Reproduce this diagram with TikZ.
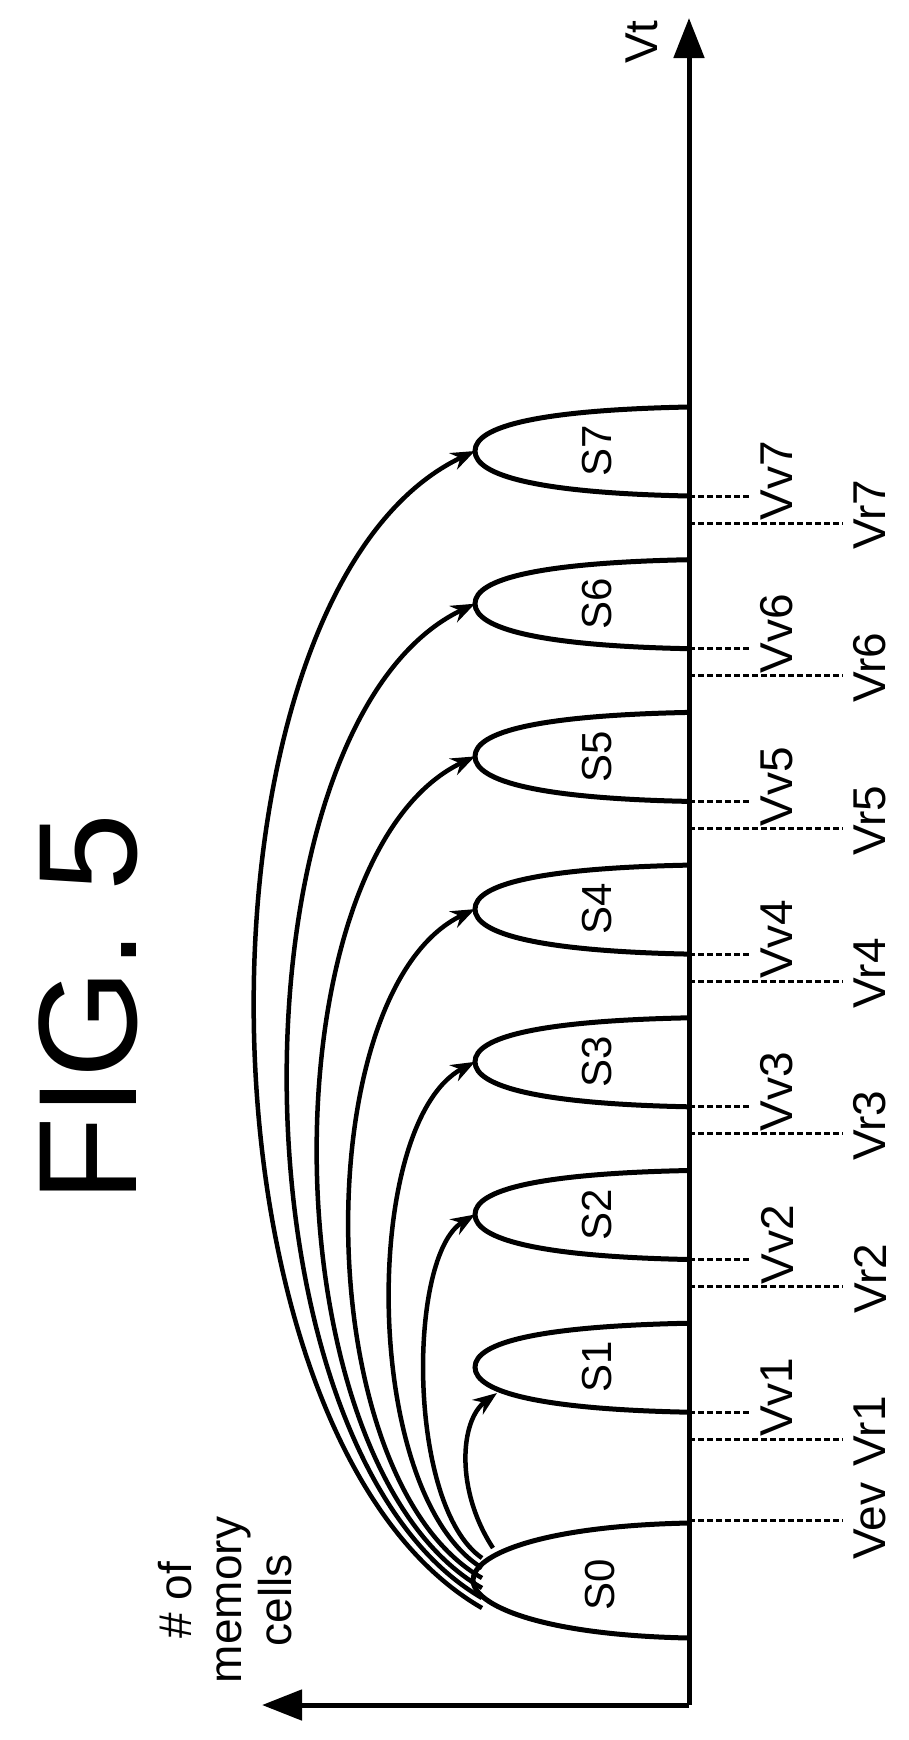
\documentclass[tikz,border=0pt]{standalone}
\usepackage{fontspec}
\setmainfont{Liberation Sans}
\usetikzlibrary{arrows.meta}
\begin{document}
\begin{tikzpicture}[x=1pt,y=-1pt,
  axis/.style={line width=5pt,-{Triangle[length=40pt,width=30pt]}},
  lobe/.style={line width=5pt},
  guide/.style={line width=3pt,dash pattern=on 6pt off 3pt},
  prog/.style={line width=4.5pt,-{Stealth[length=24pt,width=18pt]}},
  lbl/.style={rotate=90,font=\fontsize{46}{50}\selectfont,inner sep=0pt},
  slbl/.style={rotate=90,font=\fontsize{42}{46}\selectfont,inner sep=0pt}]
\useasboundingbox (0,0) rectangle (909,1740);
\coordinate (O) at (689,1705);
\coordinate (Ytip) at (689,18);
\coordinate (Xtip) at (262,1705);
\draw[axis] (O) -- (Ytip);
\draw[axis] (O) -- (Xtip);
\node[lbl] (vt) at (642,42) {Vt};
\node[lbl,align=center] (ylab) at (225,1600) {\# of\\memory\\cells};
\node[rotate=90,font=\fontsize{140}{150}\selectfont,inner sep=0pt] (fig) at (88,1008) {FIG. 5};
% S0
\draw[lobe] (689,1523) .. controls (540,1526) and (473,1555) .. (473,1580)
  coordinate (t0) .. controls (473,1605) and (540,1635) .. (689,1638);
\node[slbl] (s0) at (600,1585) {S0};
\draw[guide] (689,1520) -- (843,1520) coordinate (vev);
\node[lbl] (vevl) at (870,1521) {Vev};
% S1..S7
\foreach \k/\L in {1/465,2/425,3/390,4/350,5/318,6/288,7/255}{
  \pgfmathsetmacro{\U}{407+152.7*(7-\k)}
  \pgfmathsetmacro{\T}{\U+44}
  \pgfmathsetmacro{\Lo}{\U+89}
  \pgfmathsetmacro{\R}{\Lo+27}
  \draw[lobe] (689,\U) .. controls (540,\U+3) and (475,\T-25) .. (475,\T)
    coordinate (t\k) .. controls (475,\T+25) and (540,\Lo-3) .. (689,\Lo);
  \node[slbl] (s\k) at (597,\T) {S\k};
  \draw[guide] (689,\Lo) -- (750,\Lo) coordinate (vv\k);
  \draw[guide] (689,\R) -- (843,\R) coordinate (vr\k);
  \node[lbl] (vvl\k) at (777,\Lo-15) {Vv\k};
  \node[lbl] (vrl\k) at (870,\R-8) {Vr\k};
}
% program arrows
\coordinate (a1) at (493,1548);
\coordinate (e1) at (497,1393);
\draw[prog] (a1) .. controls (455,1490) and (460,1420) .. (e1);
\foreach \k/\c in {2/407,3/361,4/307,5/265,6/225,7/181}{
  \pgfmathsetmacro{\sy}{1548+10*(\k-1)}
  \pgfmathsetmacro{\ty}{407+152.7*(7-\k)+44}
  \pgfmathsetmacro{\ca}{\sy-0.15*(\sy-\ty)}
  \pgfmathsetmacro{\cb}{\ty+0.12*(\sy-\ty)}
  \coordinate (a\k) at (482,\sy);
  \draw[prog] (a\k) .. controls (\c,\ca) and (\c,\cb) .. (t\k);
}
\end{tikzpicture}
\end{document}
